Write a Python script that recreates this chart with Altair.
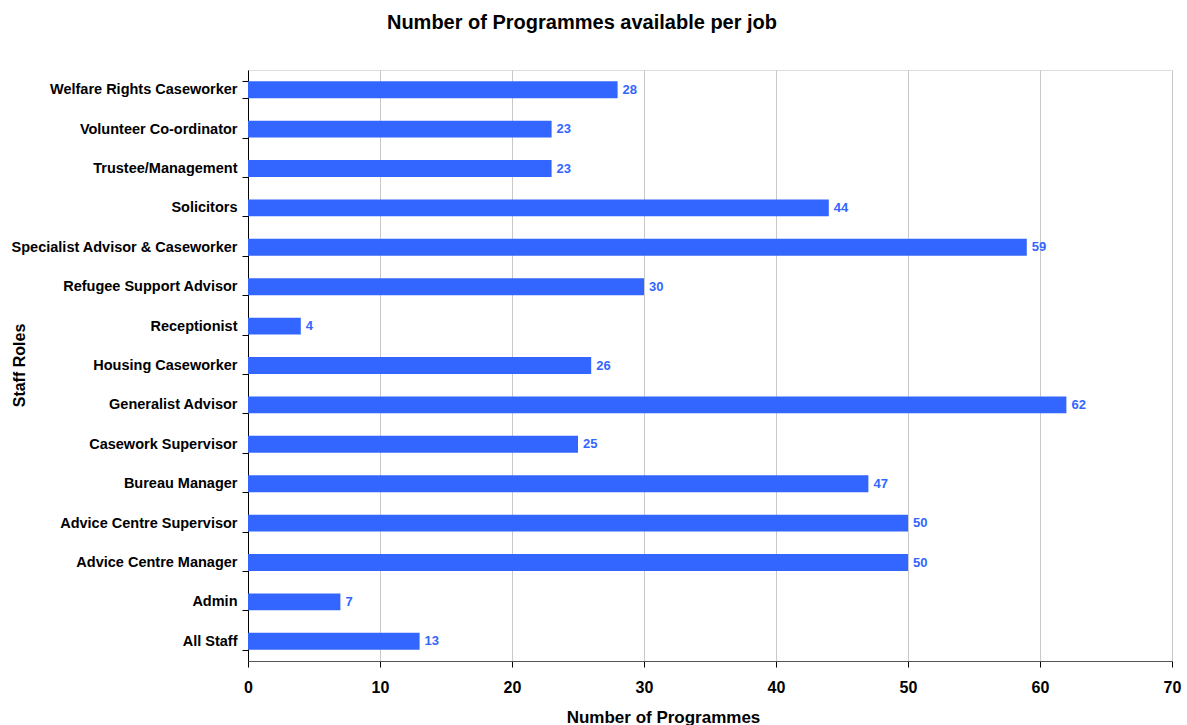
import altair as alt
import pandas as pd

roles = [
    "Welfare Rights Caseworker",
    "Volunteer Co-ordinator",
    "Trustee/Management",
    "Solicitors",
    "Specialist Advisor & Caseworker",
    "Refugee Support Advisor",
    "Receptionist",
    "Housing Caseworker",
    "Generalist Advisor",
    "Casework Supervisor",
    "Bureau Manager",
    "Advice Centre Supervisor",
    "Advice Centre Manager",
    "Admin",
    "All Staff",
]
counts = [28, 23, 23, 44, 59, 30, 4, 26, 62, 25, 47, 50, 50, 7, 13]

df = pd.DataFrame({"role": roles, "count": counts})

FONT = "Liberation Sans"
BLUE = "#3366FF"

y_enc = alt.Y(
    "role:N",
    sort=roles,
    scale=alt.Scale(paddingInner=0.57, paddingOuter=0.285),
    axis=alt.Axis(
        title="Staff Roles",
        titleFont=FONT,
        titleFontSize=16,
        titleFontWeight="bold",
        titleColor="black",
        titleX=-229,
        titleY=295,
        titleAngle=-90,
        titleBaseline="middle",
        titleAlign="center",
        labelFont=FONT,
        labelFontSize=14.5,
        labelFontWeight="bold",
        labelColor="black",
        labelPadding=5,
        tickBand="extent",
        tickSize=6,
        tickColor="black",
        domainColor="black",
        grid=False,
        labelLimit=400,
    ),
)

x_enc = alt.X(
    "count:Q",
    scale=alt.Scale(domain=[0, 70], nice=False),
    axis=alt.Axis(
        values=[0, 10, 20, 30, 40, 50, 60, 70],
        title="Number of Programmes",
        titleFont=FONT,
        titleFontSize=17,
        titleFontWeight="bold",
        titleColor="black",
        titleX=415,
        titleY=56,
        titleBaseline="middle",
        titleAlign="center",
        labelFont=FONT,
        labelFontSize=16,
        labelFontWeight="bold",
        labelColor="black",
        labelPadding=12,
        labelFlush=False,
        tickSize=6,
        tickColor="black",
        domainColor="#555555",
        grid=True,
        gridColor="#c8c8c8",
        format="d",
    ),
)

bars = alt.Chart(df).mark_bar(color=BLUE).encode(y=y_enc, x=x_enc)

labels = alt.Chart(df).mark_text(
    align="left", baseline="middle", dx=5, color=BLUE,
    font=FONT, fontSize=13, fontWeight="bold"
).encode(y=alt.Y("role:N", sort=roles), x=alt.X("count:Q"), text="count:Q")

chart = (
    alt.layer(bars, labels)
    .properties(
        width=924,
        height=591,
        autosize=alt.AutoSizeParams(type="none"),
        padding={"left": 248, "top": 70, "right": 15, "bottom": 64},
        title=alt.TitleParams(
            "Number of Programmes available per job",
            font=FONT, fontSize=20, fontWeight="bold", color="black",
            anchor="middle", dx=-128, offset=29,
        ),
    )
    .configure_view(stroke="transparent", strokeWidth=0)
    .configure(background="white")
)

chart.save("out.html", embed_options={"renderer": "svg", "actions": False})
